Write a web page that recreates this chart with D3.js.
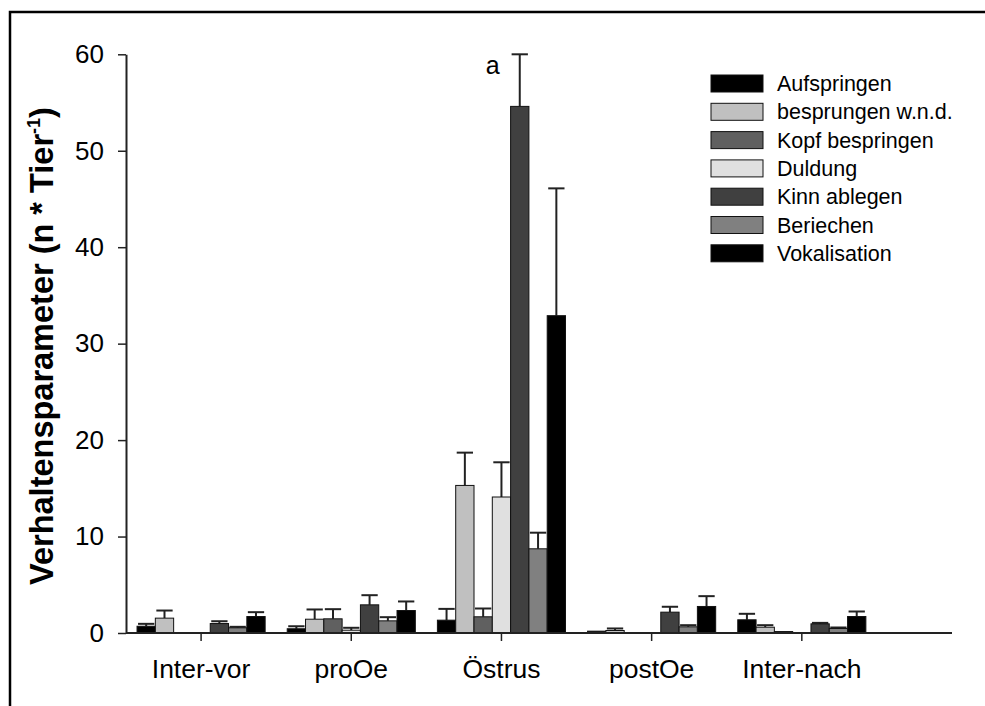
<!DOCTYPE html>
<html>
<head>
<meta charset="utf-8">
<script src="https://cdn.jsdelivr.net/npm/d3@7"></script>
<style>
  body { margin: 0; background: #fff; }
  svg { display: block; font-family: "Liberation Sans", Arial, sans-serif; }
</style>
</head>
<body>
<svg id="chart" width="985" height="706"></svg>
<script>
// ---- data ----
const categories = ["Inter-vor", "proOe", "Östrus", "postOe", "Inter-nach"];
const seriesNames = ["Aufspringen", "besprungen w.n.d.", "Kopf bespringen", "Duldung", "Kinn ablegen", "Beriechen", "Vokalisation"];
const seriesColors = ["#000000", "#c0c0c0", "#606060", "#e0e0e0", "#404040", "#808080", "#000000"];
const aufspringen      = [0.70, 0.44, 1.33, 0.19, 1.37];
const aufspringenErr   = [0.25, 0.26, 1.17, 0.00, 0.62];
const besprungen       = [1.54, 1.43, 15.3, 0.26, 0.60];
const besprungenErr    = [0.79, 1.01, 3.40, 0.21, 0.21];
const kopfBespringen   = [0.00, 1.47, 1.68, 0.00, 0.15];
const kopfBespringenErr= [0.00, 1.00, 0.86, 0.00, 0.00];
const duldung          = [0.00, 0.29, 14.1, 0.00, 0.00];
const duldungErr       = [0.00, 0.25, 3.60, 0.00, 0.00];
const kinnAblegen      = [0.98, 2.92, 54.6, 2.16, 0.95];
const kinnAblegenErr   = [0.24, 1.00, 5.40, 0.56, 0.10];
const beriechen        = [0.54, 1.26, 8.73, 0.64, 0.47];
const beriechenErr     = [0.10, 0.38, 1.67, 0.17, 0.10];
const vokalisation     = [1.71, 2.33, 32.9, 2.75, 1.71];
const vokalisationErr  = [0.45, 0.94, 13.2, 1.07, 0.52];
const yTicks = [0, 10, 20, 30, 40, 50, 60];
const annotation = {category: "Östrus", series: "Kinn ablegen", text: "a"};

const seriesValues = [aufspringen, besprungen, kopfBespringen, duldung, kinnAblegen, beriechen, vokalisation];
const seriesErrors = [aufspringenErr, besprungenErr, kopfBespringenErr, duldungErr, kinnAblegenErr, beriechenErr, vokalisationErr];

// ---- layout ----
const svg = d3.select("#chart");
const axisLeftX = 126, axisEndX = 952;
const bandW = (axisEndX - axisLeftX) / 5.5;
const x0 = d3.scaleBand().domain(categories).range([axisLeftX, axisLeftX + 5 * bandW]).padding(0);
const barW = 18.3;
const inset = (bandW - barW * seriesNames.length) / 2;
const x1 = d3.scaleBand().domain(seriesNames).range([inset, bandW - inset]).padding(0);
const y = d3.scaleLinear().domain([0, 60]).range([633, 54.3]);

// frame
svg.append("rect").attr("x", 10).attr("y", 12).attr("width", 1100).attr("height", 1100)
  .attr("fill", "none").attr("stroke", "#000").attr("stroke-width", 2.5);

// bars
const rows = [];
categories.forEach((c, ci) => {
  seriesNames.forEach((s, si) => {
    rows.push({c, s, si, v: seriesValues[si][ci], e: seriesErrors[si][ci]});
  });
});

const g = svg.append("g");
const eb = g.selectAll("g.err").data(rows.filter(d => d.e > 0)).join("g").attr("class", "err");
eb.append("line")
  .attr("x1", d => x0(d.c) + x1(d.s) + x1.bandwidth() / 2)
  .attr("x2", d => x0(d.c) + x1(d.s) + x1.bandwidth() / 2)
  .attr("y1", d => y(d.v)).attr("y2", d => y(d.v + d.e))
  .attr("stroke", "#222").attr("stroke-width", 2);
eb.append("line")
  .attr("x1", d => x0(d.c) + x1(d.s) + 1)
  .attr("x2", d => x0(d.c) + x1(d.s) + x1.bandwidth() - 1)
  .attr("y1", d => y(d.v + d.e)).attr("y2", d => y(d.v + d.e))
  .attr("stroke", "#222").attr("stroke-width", 2);

g.selectAll("rect.bar").data(rows.filter(d => d.v > 0)).join("rect").attr("class", "bar")
  .attr("x", d => x0(d.c) + x1(d.s))
  .attr("width", x1.bandwidth())
  .attr("y", d => y(d.v))
  .attr("height", d => y(0) - y(d.v))
  .attr("fill", d => seriesColors[d.si])
  .attr("stroke", "#111").attr("stroke-width", 1);

// y axis
const yAxis = svg.append("g").attr("transform", `translate(${axisLeftX},0)`)
  .call(d3.axisLeft(y).tickValues(yTicks).tickSize(8).tickPadding(14).tickSizeOuter(0));
yAxis.select(".domain").attr("stroke", "#222").attr("stroke-width", 2);
yAxis.selectAll(".tick line").attr("stroke", "#222").attr("stroke-width", 1.5);
yAxis.selectAll(".tick text").attr("font-size", 26).attr("fill", "#000")
  .attr("font-family", "Liberation Sans, Arial, sans-serif");

// x axis
const xAxis = svg.append("g").attr("transform", `translate(0,${y(0)})`)
  .call(d3.axisBottom(x0).tickSize(8).tickPadding(18).tickSizeOuter(0));
xAxis.select(".domain").remove();
xAxis.append("line").attr("x1", axisLeftX).attr("x2", axisEndX).attr("y1", 0).attr("y2", 0)
  .attr("stroke", "#222").attr("stroke-width", 2);
xAxis.selectAll(".tick line").attr("stroke", "#222").attr("stroke-width", 1.5);
xAxis.selectAll(".tick text").attr("font-size", 26.5).attr("fill", "#000")
  .attr("font-family", "Liberation Sans, Arial, sans-serif");

// y title
const yt = svg.append("text")
  .attr("transform", "translate(53,346) rotate(-90)")
  .attr("text-anchor", "middle").attr("font-weight", "bold").attr("font-size", 32.5).attr("fill", "#000");
yt.append("tspan").text("Verhaltensparameter (n * Tier");
yt.append("tspan").text("-1").attr("font-size", 18).attr("dy", -13);
yt.append("tspan").text(")").attr("dy", 13);

// annotation
const ai = categories.indexOf(annotation.category), as = seriesNames.indexOf(annotation.series);
svg.append("text")
  .attr("x", x0(annotation.category) + x1(annotation.series) - 18)
  .attr("y", y(seriesValues[as][ai] + seriesErrors[as][ai]) + 20)
  .attr("text-anchor", "middle").attr("font-size", 25).attr("fill", "#000").text(annotation.text);

// legend
const legend = svg.append("g").attr("transform", "translate(711,75)");
const li = legend.selectAll("g").data(seriesNames).join("g")
  .attr("transform", (d, i) => `translate(0,${i * 28.3})`);
li.append("rect").attr("width", 52).attr("height", 17)
  .attr("fill", (d, i) => seriesColors[i]).attr("stroke", "#111").attr("stroke-width", 1);
li.append("text").attr("x", 66).attr("y", 16).attr("font-size", 21.5).attr("fill", "#000").text(d => d);
</script>
</body>
</html>
